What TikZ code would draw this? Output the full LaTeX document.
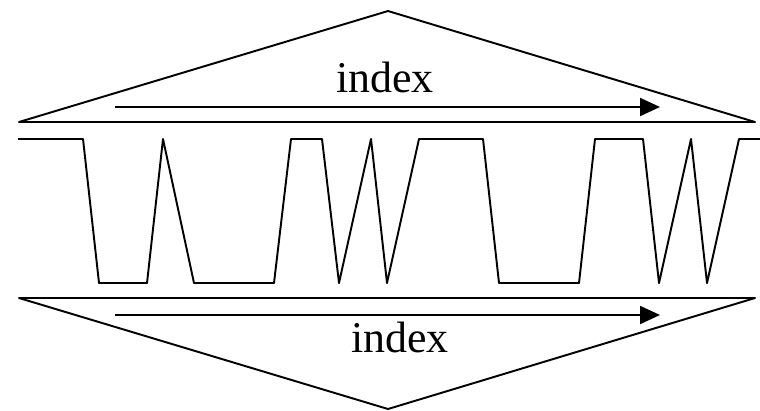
\documentclass[tikz,border=0pt]{standalone}
\usepackage{fontspec}
\setmainfont{Liberation Serif}
\usetikzlibrary{arrows.meta}

\begin{document}
\begin{tikzpicture}[x=0.02cm,y=-0.02cm,line width=1.1pt,line join=round,
    lbl/.style={anchor=base,inner sep=0pt,font=\fontsize{25}{30}\selectfont},
    idxarrow/.style={-{Triangle[length=0.4cm,width=0.36cm]}}]
    \useasboundingbox (0,0) rectangle (760,410);
    % upper triangle
    \coordinate (tl) at (19,122); \coordinate (tr) at (755,122); \coordinate (ttop) at (388,11);
    \draw (tl)--(ttop)--(tr)--cycle;
    \coordinate (ta) at (115,107); \coordinate (tb) at (660,107);
    \draw[idxarrow] (ta)--(tb);
    \node[lbl] (tidx) at (385,92) {index};
    % lower triangle
    \coordinate (bl) at (19,298); \coordinate (br) at (755,298); \coordinate (bbot) at (388,409);
    \draw (bl)--(bbot)--(br)--cycle;
    \coordinate (ba) at (115,315); \coordinate (bb) at (660,315);
    \draw[idxarrow] (ba)--(bb);
    \node[lbl] (bidx) at (400,352) {index};
    % signal
    \draw (18,139)--(83,139)--(99,283)--(147,283)--(163,139)--(194,283)--(274,283)--(291,139)
      --(322,139)--(339,283)--(371,139)--(387,283)--(419,139)--(483,139)--(499,283)--(579,283)
      --(595,139)--(643,139)--(659,283)--(691,139)--(707,283)--(739,139)--(760,139);
  \end{tikzpicture}
\end{document}
